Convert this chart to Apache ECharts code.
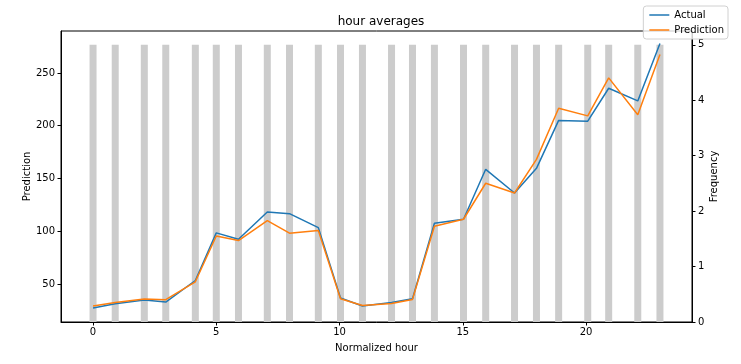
<!DOCTYPE html>
<html><head><meta charset="utf-8">
<script src="https://cdn.jsdelivr.net/npm/echarts@6/dist/echarts.min.js"></script>
<style>html,body{margin:0;padding:0;background:#fff}#c{width:741px;height:364px}</style>
</head><body><div id="c"></div>
<script>
// Normalized hour positions (x)
const hours = [0, 0.90, 2.08, 2.95, 4.15, 5.00, 5.90, 7.07, 7.97, 9.14, 10.04, 10.93, 12.11, 12.96, 13.85, 15.03, 15.93, 17.10, 17.99, 18.89, 20.07, 20.92, 22.10, 23.00];
const actual = [27.3, 31.4, 34.9, 33.0, 53.4, 98.5, 92.5, 118.3, 116.7, 103.5, 36.8, 29.2, 32.6, 36.1, 107.7, 111.4, 158.7, 136.3, 159.6, 205.0, 204.3, 235.5, 223.5, 277.8];
const prediction = [29.2, 32.6, 35.8, 35.2, 52.2, 95.6, 91.2, 110.1, 98.2, 100.7, 36.1, 29.8, 31.7, 35.5, 104.8, 111.4, 145.5, 136.3, 168.1, 216.6, 209.3, 245.3, 210.3, 267.4];
const frequency = [5,5,5,5,5,5,5,5,5,5,5,5,5,5,5,5,5,5,5,5,5,5,5,5];
const xTicks = [0, 5, 10, 15, 20];
const yLeftTicks = [50, 100, 150, 200, 250];
const yRightTicks = [0, 1, 2, 3, 4, 5];

const font = 'DejaVu Sans';
const chart = echarts.init(document.getElementById('c'), null, {renderer: 'canvas'});
const zip = (xs, ys) => xs.map((x, i) => [x, ys[i]]);
chart.setOption({
  animation: false,
  textStyle: {fontFamily: font},
  title: {text: 'hour averages', left: 376, top: 11, textAlign: 'center',
    textStyle: {fontFamily: font, fontSize: 12, fontWeight: 'normal', color: '#000'}},
  legend: {
    right: 13, top: 6, orient: 'vertical', itemGap: 5, itemWidth: 20, itemHeight: 10,
    padding: [4, 4, 4, 6], borderColor: '#d0d0d0', borderWidth: 1, borderRadius: 3,
    backgroundColor: 'rgba(255,255,255,0.8)',
    textStyle: {fontFamily: font, fontSize: 10, color: '#000'},
    data: [{name: 'Actual', icon: 'path://M0,0 L20,0 L20,1.5 L0,1.5 Z'},
           {name: 'Prediction', icon: 'path://M0,0 L20,0 L20,1.5 L0,1.5 Z'}]
  },
  grid: {left: 61, right: 49, top: 31, bottom: 42, show: true, borderColor: '#000', borderWidth: 1, containLabel: false},
  xAxis: {
    type: 'value', min: -1.3, max: 24.3,
    name: 'Normalized hour', nameLocation: 'middle', nameGap: 21, nameMoveOverlap: false,
    nameTextStyle: {fontFamily: font, fontSize: 10, color: '#000'},
    axisLine: {show: true, onZero: false, lineStyle: {color: '#000', width: 1}},
    axisTick: {show: true, customValues: xTicks, length: 3.5, lineStyle: {color: '#000'}},
    axisLabel: {customValues: xTicks, fontFamily: font, fontSize: 10, color: '#000', margin: 5},
    splitLine: {show: false}
  },
  yAxis: [{
    type: 'value', min: 14.1, max: 289.7, position: 'left',
    name: 'Prediction', nameLocation: 'middle', nameGap: 29, nameRotate: 90, nameMoveOverlap: false,
    nameTextStyle: {fontFamily: font, fontSize: 10, color: '#000'},
    axisLine: {show: true, onZero: false, lineStyle: {color: '#000', width: 1}},
    axisTick: {show: true, customValues: yLeftTicks, length: 3.5, lineStyle: {color: '#000'}},
    axisLabel: {customValues: yLeftTicks, fontFamily: font, fontSize: 10, color: '#000', margin: 6},
    splitLine: {show: false}
  }, {
    type: 'value', min: 0, max: 5.25, position: 'right',
    name: 'Frequency', nameLocation: 'middle', nameGap: 17, nameRotate: 90, nameMoveOverlap: false,
    nameTextStyle: {fontFamily: font, fontSize: 10, color: '#000'},
    axisLine: {show: true, onZero: false, lineStyle: {color: '#000', width: 1}},
    axisTick: {show: true, customValues: yRightTicks, length: 3.5, lineStyle: {color: '#000'}},
    axisLabel: {customValues: yRightTicks, fontFamily: font, fontSize: 10, color: '#000', margin: 6},
    splitLine: {show: false}
  }],
  series: [
    {name: 'Frequency', type: 'bar', yAxisIndex: 1, barWidth: 7, z: 1,
     itemStyle: {color: '#cccccc'}, data: zip(hours, frequency)},
    {name: 'Actual', type: 'line', yAxisIndex: 0, z: 3, symbol: 'none',
     lineStyle: {color: '#1f77b4', width: 1.5}, itemStyle: {color: '#1f77b4'}, data: zip(hours, actual)},
    {name: 'Prediction', type: 'line', yAxisIndex: 0, z: 4, symbol: 'none',
     lineStyle: {color: '#ff7f0e', width: 1.5}, itemStyle: {color: '#ff7f0e'}, data: zip(hours, prediction)}
  ]
});
</script></body></html>
